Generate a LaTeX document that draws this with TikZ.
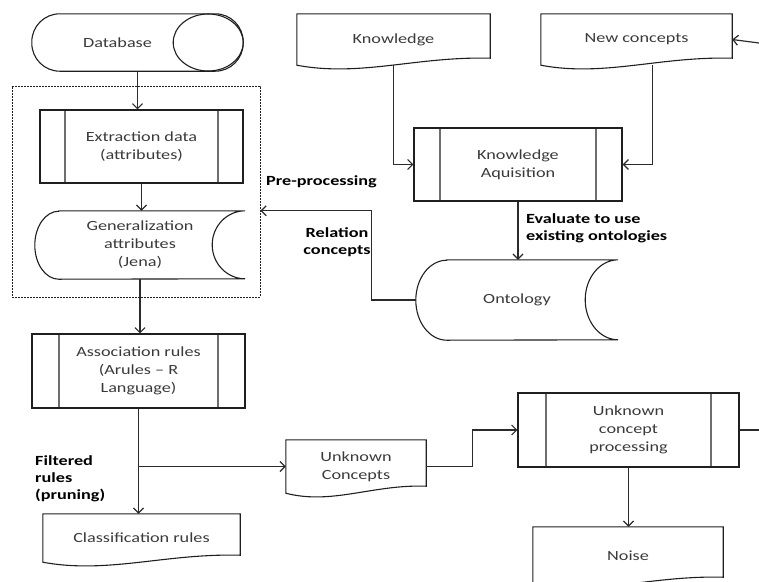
\documentclass[tikz,border=0pt]{standalone}
\usepackage{fontspec}
\setmainfont[FakeStretch=1.3]{Carlito}
\usepackage{tikz}
\usetikzlibrary{arrows.meta,calc}
\definecolor{ink}{HTML}{3A3A3A}
\definecolor{edge}{HTML}{1F1F1F}
\definecolor{divider}{HTML}{6E6E6E}
\definecolor{wire}{HTML}{2B2B2B}
\tikzset{
  font=\fontsize{14}{18}\selectfont,
  >={Straight Barb[length=5pt,width=10pt]},
  outline/.style={draw=edge, line width=1.1pt},
  textbox/.style={text=ink, align=center, inner sep=0pt},
  procbox/.style={
    textbox, outline,
    path picture={
      \draw[divider, line width=1.3pt]
        ([xshift=#1]path picture bounding box.north west) --
        ([xshift=#1]path picture bounding box.south west);
      \draw[divider, line width=1.3pt]
        ([xshift=-#1]path picture bounding box.north east) --
        ([xshift=-#1]path picture bounding box.south east);
    }
  },
  procbox/.default=26pt,
  group/.style={draw=edge, line width=0.8pt, dash pattern=on 2pt off 1pt},
  flow/.style={->, draw=wire, line width=1.2pt},
  wire/.style={draw=wire, line width=1.2pt},
  tag/.style={font=\bfseries\fontsize{14}{17}\selectfont, text=black,
    inner sep=0pt, align=left}
}
% document outline round a node
\newcommand{\docshape}[1]{%
  \draw[outline] (#1.north west) -- (#1.north east) -- ([yshift=7pt]#1.south east)
    .. controls ($(#1.south west)!0.62!(#1.south east)+(0pt,9pt)$)
       and ($(#1.south west)!0.33!(#1.south east)+(0pt,-12pt)$) .. (#1.south west)
    -- cycle;}
% stored data outline: node, left depth, right depth, half height
\newcommand{\storeshape}[4]{%
  \draw[outline] ([xshift=#2]#1.north west) -- (#1.north east)
    arc[start angle=90, end angle=270, x radius=#3, y radius=#4]
    -- ([xshift=#2]#1.south west)
    arc[start angle=270, end angle=90, x radius=#2, y radius=#4] -- cycle;}

\begin{document}
\begin{tikzpicture}[x=1pt,y=-1pt]
  \useasboundingbox (0,0) rectangle (759,581);

  % source
  \node[textbox, minimum width=211pt, minimum height=57pt] (db) at (137.5,42.5)
     {Database\hspace*{40pt}};
  \draw[outline, rounded corners=28pt] (db.north west) rectangle (db.south east);
  \draw[outline] ([xshift=-35pt]db.east) ellipse [x radius=35pt, y radius=28.5pt];

  % pre-processing group
  \node[group, minimum width=248pt, minimum height=211pt] (prep) at (136,191.5) {};
  \node[procbox=25pt, minimum width=203pt, minimum height=73pt] (ext) at (141.5,146.5)
     {Extraction data\\(attributes)};
  \node[textbox, minimum width=210pt, minimum height=68pt] (gen) at (140,245)
     {Generalization\\attributes\\(Jena)};
  \storeshape{gen}{24pt}{33pt}{34pt}

  % rules
  \node[procbox=27pt, minimum width=213pt, minimum height=74pt] (assoc) at (138.5,371)
     {Association rules\\(Arules -- R\\Language)};
  \node[textbox, minimum width=197pt, minimum height=48pt] (cls) at (141.5,538)
     {Classification rules};
  \docshape{cls}

  % knowledge side
  \node[textbox, minimum width=193pt, minimum height=51pt] (know) at (393.5,39.5) {Knowledge};
  \docshape{know}
  \node[textbox, minimum width=191pt, minimum height=51pt] (newc) at (636.5,39.5) {New concepts};
  \docshape{newc}
  \node[procbox, minimum width=208pt, minimum height=73pt] (ka) at (518,164.5)
     {Knowledge\\Aquisition};
  \node[textbox, minimum width=202pt, minimum height=80pt] (onto) at (517,300) {Ontology};
  \storeshape{onto}{31pt}{33pt}{40pt}

  % unknown concepts
  \node[textbox, minimum width=140pt, minimum height=53pt] (unk) at (356,466.5)
     {Unknown\\Concepts};
  \docshape{unk}
  \node[procbox=28pt, minimum width=221pt, minimum height=74pt] (ucp) at (628.5,430)
     {Unknown\\concept\\processing};
  \node[textbox, minimum width=190pt, minimum height=57pt] (noise) at (628,555.5) {Noise};
  \docshape{noise}

  \coordinate (inR) at (759,43);
  \coordinate (outR) at (759,430);

  % edges
  \draw[flow] (db.south) -- (db.south |- ext.north);
  \draw[flow] (ext.south) -- (ext.south |- gen.north);
  \draw[flow] (gen.south) -- (gen.south |- assoc.north);
  \draw[flow] (assoc.south) -- (assoc.south |- cls.north);
  \draw[flow] (assoc.south |- unk.west) -- (unk.west);
  \draw[flow] (unk.east) -- ++(46,0) |- (ucp.west);
  \draw[wire] (ucp.east) -- (outR);
  \draw[flow] (ucp.south) -- (ucp.south |- noise.north);
  \draw[flow] (know.south) |- (ka.west);
  \draw[flow] ([xshift=16pt]newc.south) |- (ka.east);
  \draw[flow] (inR) -- (newc.east);
  \draw[flow] (ka.south) -- (ka.south |- onto.north);
  \draw[flow] (onto.west) -- ++(-44,0) |- (prep.east |- gen.north);

  % labels
  \node[tag, anchor=west] (pptag) at (266,182) {Pre-processing};
  \node[tag, align=center] (reltag) at (337,242) {Relation\\concepts};
  \node[tag, anchor=west] (evaltag) at (526,228) {Evaluate to use\\existing ontologies};
  \node[tag, anchor=north west] (filttag) at (35,455) {Filtered\\rules\\(pruning)};
\end{tikzpicture}
\end{document}
